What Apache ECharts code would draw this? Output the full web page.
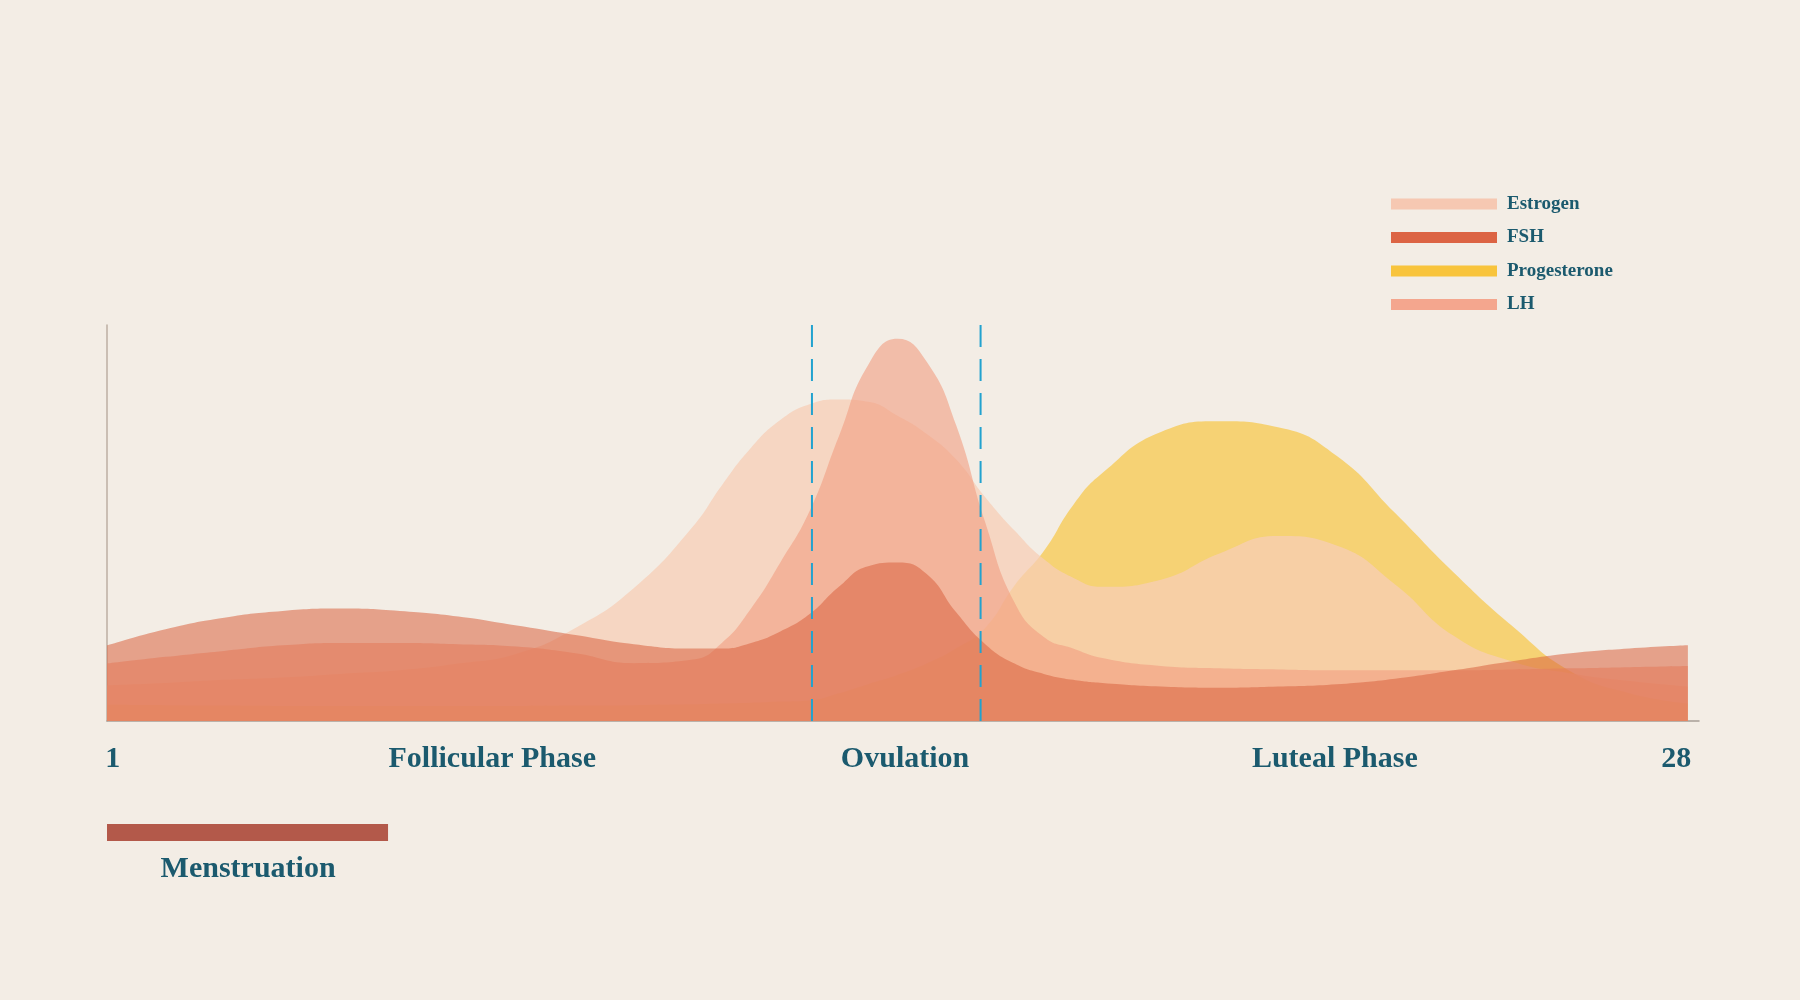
<!DOCTYPE html>
<html>
<head>
<meta charset="utf-8">
<script src="https://cdn.jsdelivr.net/npm/echarts@6/dist/echarts.min.js"></script>
<style>
  html, body { margin: 0; background: #f3ede5; }
  #chart { width: 1800px; height: 1000px; }
</style>
</head>
<body>
<div id="chart"></div>
<script>
// cycle day positions (finer around ovulation)
const days = [1, 2, 3, 4, 5, 6, 7, 8, 9, 10, 11,
  11.5, 12, 12.5, 13, 13.5, 14, 14.5, 15, 15.5, 16, 16.5, 17, 17.5, 18,
  19, 20, 21, 22, 23, 24, 25, 26, 27, 28]

const estrogen = [9.0, 9.6, 10.4, 11.0, 11.9, 12.8, 14.5, 17.0, 23.5, 33.6, 49.0,
  59.5, 69.0, 76.0, 80.0, 81.2, 80.6, 77.1, 72.5, 66.1, 56.5, 48.1, 40.9, 36.2, 33.9,
  35.7, 42.3, 46.7, 44.3, 34.5, 21.5, 15.0, 12.0, 10.1, 8.7]

const fsh = [19.1, 23.2, 26.1, 27.8, 28.4, 27.8, 26.4, 24.1, 21.7, 19.4, 18.3,
  18.3, 19.7, 22.6, 27.0, 33.9, 39.1, 40.0, 37.1, 27.5, 19.4, 14.5, 11.9, 10.4, 9.6,
  8.7, 8.4, 8.7, 9.3, 10.7, 12.8, 15.1, 17.1, 18.3, 19.1]

const progesterone = [4.1, 4.0, 3.9, 3.8, 3.8, 3.8, 3.8, 3.8, 3.9, 4.0, 4.2,
  4.4, 4.6, 4.9, 5.2, 7.0, 9.3, 11.6, 14.5, 18.3, 23.5, 34.2, 42.9, 54.5, 62.6,
  73.0, 75.7, 74.2, 67.0, 52.5, 37.5, 24.0, 12.5, 7.0, 4.4]

const lh = [14.5, 16.2, 17.7, 19.1, 19.7, 19.7, 19.4, 18.8, 17.1, 14.6, 15.5,
  19.7, 28.4, 40.0, 53.0, 71.9, 89.9, 96.5, 90.7, 74.8, 50.1, 29.9, 21.2, 18.3, 15.9,
  13.9, 13.3, 13.0, 12.8, 12.8, 12.8, 13.0, 13.3, 13.6, 13.9]

const ovulationBounds = [13.04, 15.92]
const labelDays = [1.1, 7.58, 14.63, 21.97, 27.8]
const labelTexts = ['1', 'Follicular Phase', 'Ovulation', 'Luteal Phase', '28']
const menstruation = [1, 5.8]

const FONT = '"Liberation Serif", serif'
const TEXT = '#1b5a6e'

const toPoints = (vals) => days.map((d, i) => [d, vals[i]])

const hormone = (name, vals, color, fill, opacity) => ({
  name,
  type: 'line',
  smooth: 0.5,
  showSymbol: false,
  silent: true,
  itemStyle: { color },
  lineStyle: { width: 0 },
  areaStyle: { color: fill, opacity },
  data: toPoints(vals)
})

const chart = echarts.init(document.getElementById('chart'))

chart.setOption({
  backgroundColor: '#f3ede5',
  animation: false,
  legend: {
    orient: 'vertical',
    left: 1391,
    top: 194,
    padding: 0,
    icon: 'rect',
    itemWidth: 106,
    itemHeight: 11,
    itemGap: 13.5,
    textStyle: { fontFamily: FONT, fontWeight: 'bold', fontSize: 19, color: TEXT, lineHeight: 20, padding: [0, 0, 0, 5] },
    data: [
      { name: 'Estrogen', itemStyle: { color: '#f6c8b2' } },
      { name: 'FSH', itemStyle: { color: '#dc6444' } },
      { name: 'Progesterone', itemStyle: { color: '#f8c43c' } },
      { name: 'LH', itemStyle: { color: '#f4a68e' } }
    ]
  },
  grid: [
    { left: 107, right: 101, top: 325, bottom: 279 },
    { left: 107, right: 101, top: 824, height: 17 }
  ],
  xAxis: [{
    type: 'value',
    min: 1,
    max: 28.19,
    splitLine: { show: false },
    axisTick: { show: false },
    axisLine: { lineStyle: { color: '#a89e97', width: 1.5 } },
    axisLabel: {
      customValues: labelDays,
      formatter: (v) => labelTexts[labelDays.indexOf(v)] ?? '',
      margin: 23,
      fontFamily: FONT,
      fontWeight: 'bold',
      fontSize: 30,
      color: TEXT
    }
  }, {
    type: 'value',
    gridIndex: 1,
    min: 1,
    max: 28.19,
    splitLine: { show: false },
    axisTick: { show: false },
    axisLine: { show: false },
    axisLabel: {
      customValues: [3.41],
      formatter: () => 'Menstruation',
      margin: 13,
      fontFamily: FONT,
      fontWeight: 'bold',
      fontSize: 30,
      color: TEXT
    }
  }],
  yAxis: [{
    type: 'value',
    min: 0,
    max: 100,
    splitLine: { show: false },
    axisTick: { show: false },
    axisLabel: { show: false },
    axisLine: { show: true, lineStyle: { color: '#bcaea2', width: 1.5 } }
  }, {
    type: 'value',
    gridIndex: 1,
    min: -1,
    max: 1,
    show: false
  }],
  series: [
    hormone('Progesterone', progesterone, '#f8c43c', '#f8c43a', 0.66),
    hormone('Estrogen', estrogen, '#f6c8b2', '#f7cdb6', 0.75),
    hormone('LH', lh, '#f4a68e', '#f19c80', 0.6),
    hormone('FSH', fsh, '#dc6444', '#d9633f', 0.55),
    {
      // ovulation window boundaries, multiplied over the areas
      name: 'ovulation',
      type: 'custom',
      silent: true,
      z: 10,
      data: ovulationBounds,
      renderItem: (params, api) => {
        const x = api.value(0)
        const top = api.coord([x, 100])
        const bottom = api.coord([x, 0])
        return {
          type: 'line',
          shape: { x1: top[0], y1: top[1], x2: bottom[0], y2: bottom[1] },
          style: { stroke: '#22a2cf', lineWidth: 2, lineDash: [22, 12], blend: 'multiply' }
        }
      },
      encode: { x: 0 }
    },
    {
      name: 'Menstruation',
      type: 'line',
      xAxisIndex: 1,
      yAxisIndex: 1,
      showSymbol: false,
      silent: true,
      lineStyle: { width: 17, color: '#b3594a', cap: 'butt' },
      data: menstruation.map(d => [d, 0])
    }
  ]
})
</script>
</body>
</html>
